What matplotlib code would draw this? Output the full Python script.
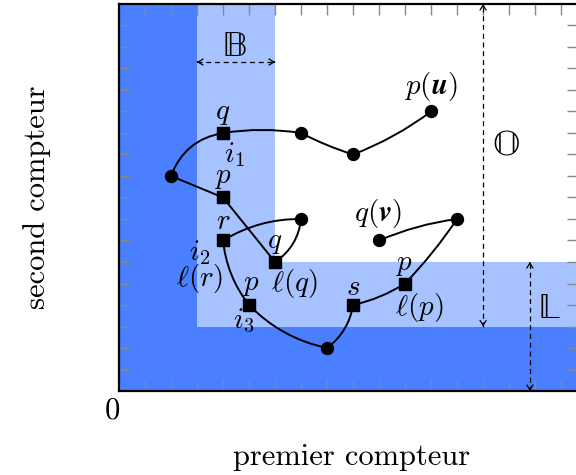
import numpy as np
import matplotlib
matplotlib.use("Agg")
import matplotlib.pyplot as plt
from matplotlib.path import Path
from matplotlib.patches import PathPatch, Rectangle

plt.rcParams['mathtext.fontset'] = 'cm'

# nodes along the single run, in grid units
path_x = [12, 9, 7, 4, 2, 4, 6, 7, 4, 5, 8, 9, 11, 13, 10]
path_y = [13, 11, 12, 12, 10, 9, 6, 8, 7, 4, 2, 4, 5, 8, 7]
# 's' = square (labelled state), 'o' = plain dot
node_kind = ['o', 'o', 'o', 's', 'o', 's', 's', 'o', 's', 's', 'o', 's', 's', 'o', 'o']
# bend of each segment in degrees, positive bends to the left
bends = [8, 5, -9, -30, 0, 0, -25, -16, -16, -17, -22, -10, -5, -8]

# zones: below B_LIMIT everything dark, up to L_LIMIT light
B_LIMIT = 3
L_LIMIT = 6
X_MAX = 17.65
Y_MAX = 18

# node labels: text, x, y (centre)
labels = [
    (r'$q$', 4.0, 12.95), (r'$i_1$', 4.45, 11.0),
    (r'$p$', 4.0, 9.95), (r'$r$', 4.0, 7.9),
    (r'$i_2$', 3.1, 6.45), (r'$\ell(r)$', 3.1, 5.25),
    (r'$q$', 6.0, 6.95), (r'$\ell(q)$', 6.75, 5.0),
    (r'$p$', 5.05, 5.0), (r'$i_3$', 4.8, 3.25),
    (r'$s$', 9.0, 4.85), (r'$p$', 10.95, 5.9),
    (r'$\ell(p)$', 11.55, 3.9),
    (r'$p(\boldsymbol{u})$', 12.0, 14.15),
    (r'$q(\boldsymbol{v})$', 9.95, 8.25),
]

DARK = '#4a80ff'
LIGHT = '#a6c2ff'

fig = plt.figure(figsize=(5.76, 4.75), dpi=100)
ax = fig.add_axes([119 / 576, 84 / 475, 459 / 576, 387 / 475])
ax.set_xlim(0, X_MAX)
ax.set_ylim(0, Y_MAX)

# background zones
ax.add_patch(Rectangle((0, 0), X_MAX, Y_MAX, color=LIGHT, lw=0, zorder=0))
ax.add_patch(Rectangle((L_LIMIT, L_LIMIT), X_MAX, Y_MAX, color='white', lw=0, zorder=0))
ax.add_patch(Rectangle((0, 0), B_LIMIT, Y_MAX, color=DARK, lw=0, zorder=0))
ax.add_patch(Rectangle((0, 0), X_MAX, B_LIMIT, color=DARK, lw=0, zorder=0))

# curved run, each segment a quadratic bezier bent in screen space
to_px = ax.transData
to_data = ax.transData.inverted()
verts = []
codes = []
for i in range(len(path_x) - 1):
    a = to_px.transform((path_x[i], path_y[i]))
    b = to_px.transform((path_x[i + 1], path_y[i + 1]))
    d = b - a
    n = np.array([-d[1], d[0]])
    ctrl = (a + b) / 2 + n / 2 * np.tan(np.radians(bends[i]))
    if i == 0:
        verts.append(to_data.transform(a))
        codes.append(Path.MOVETO)
    verts += [to_data.transform(ctrl), to_data.transform(b)]
    codes += [Path.CURVE3, Path.CURVE3]
ax.add_patch(PathPatch(Path(verts, codes), fill=False, lw=1.4, color='black', zorder=3,
                       capstyle='round', joinstyle='round'))

px = np.array(path_x)
py = np.array(path_y)
kind = np.array(node_kind)
ax.plot(px[kind == 's'], py[kind == 's'], 's', color='black', ms=8.6, zorder=4)
ax.plot(px[kind == 'o'], py[kind == 'o'], 'o', color='black', ms=8.6, zorder=4)

for txt, x, y in labels:
    ax.text(x, y, txt, fontsize=21, ha='center', va='center', zorder=5)


def dashed_arrow(p0, p1):
    ax.plot([p0[0], p1[0]], [p0[1], p1[1]], ls=(0, (4, 3)), color='black', lw=0.9, zorder=2)
    for tip, other in ((p0, p1), (p1, p0)):
        tip = np.array(tip, float)
        back = tip + (np.array(other, float) - tip) * 0.01
        ax.annotate('', xy=tip, xytext=back, zorder=2,
                    arrowprops=dict(arrowstyle='->,head_length=0.35,head_width=0.22',
                                    lw=0.9, color='black', shrinkA=0, shrinkB=0))


bb_font = ['STIXGeneral', 'DejaVu Serif']
dashed_arrow((B_LIMIT, 15.3), (L_LIMIT, 15.3))
ax.text(4.45, 16.0, '\U0001D539', fontsize=26, family=bb_font, ha='center', va='center')
dashed_arrow((14.0, B_LIMIT), (14.0, Y_MAX))
ax.text(14.9, 11.35, '\U0001D546', fontsize=26, family=bb_font, ha='center', va='center')
dashed_arrow((15.8, 0), (15.8, L_LIMIT))
ax.text(16.55, 3.8, '\U0001D543', fontsize=26, family=bb_font, ha='center', va='center')

# grey inner ticks on every side
ax.set_xticks(np.arange(1, 18))
ax.set_yticks(np.arange(1, 18))
ax.tick_params(which='both', direction='in', length=8, width=1, color='#888888',
               top=True, right=True, labelbottom=False, labelleft=False)
for sp in ax.spines.values():
    sp.set_linewidth(1.6)
    sp.set_zorder(6)

ax.text(-0.25, -0.9, '0', fontsize=22, family='cmr10', ha='center', va='center', clip_on=False)
fig.text(352 / 576, 1 - 457 / 475, 'premier compteur', fontsize=22, family='cmr10',
         ha='center', va='center')
fig.text(37 / 576, 1 - 197 / 475, 'second compteur', fontsize=22, family='cmr10',
         ha='center', va='center', rotation=90)

fig.savefig('out.png', dpi=100)
